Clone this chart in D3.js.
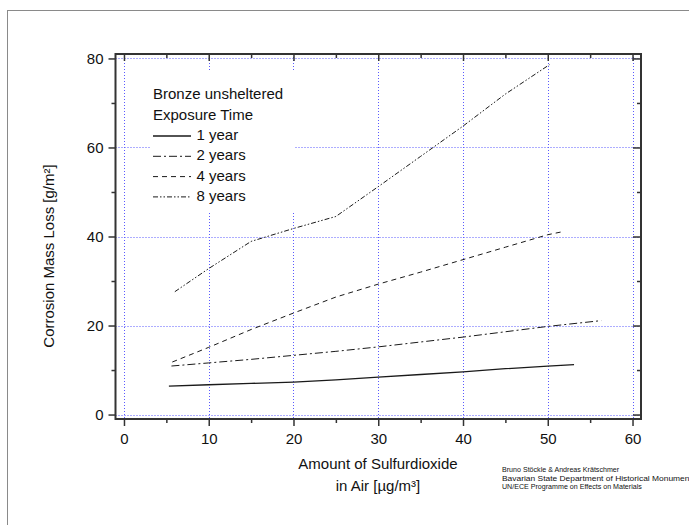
<!DOCTYPE html>
<html>
<head>
<meta charset="utf-8">
<script src="https://cdn.jsdelivr.net/npm/d3@7"></script>
<style>
  html, body { margin: 0; padding: 0; background: #fff; overflow: hidden; }
  svg { display: block; }
  text { font-family: "Liberation Sans", Arial, sans-serif; fill: #111; }
</style>
</head>
<body>
<svg id="chart" width="689" height="525"></svg>
<script>
// ---- data ----
const xTicks = [0, 10, 20, 30, 40, 50, 60];
const xMinorTicks = [5, 15, 25, 35, 45, 55];
const yTicks = [0, 20, 40, 60, 80];
const yMinorTicks = [10, 30, 50, 70];

const seriesNames = ["1 year", "2 years", "4 years", "8 years"];

const sulfur1 = [5.3, 10, 15, 20, 25, 30, 35, 40, 45, 50, 53.1];
const loss1   = [6.4, 6.7, 7.0, 7.3, 7.8, 8.4, 9.0, 9.6, 10.3, 10.9, 11.2];

const sulfur2 = [5.6, 10, 15, 20, 25, 30, 35, 40, 45, 50, 56.3];
const loss2   = [10.9, 11.6, 12.4, 13.3, 14.2, 15.2, 16.3, 17.4, 18.6, 19.8, 21.1];

const sulfur4 = [5.7, 10, 15, 20, 25, 30, 35, 40, 45, 50, 51.8];
const loss4   = [11.8, 15.1, 19.1, 22.8, 26.4, 29.3, 32.0, 34.8, 37.6, 40.4, 41.1];

const sulfur8 = [6.0, 10, 15, 20, 25, 30, 35, 40, 45, 50.2];
const loss8   = [27.6, 32.8, 38.9, 41.8, 44.5, 51.2, 58.0, 64.8, 72.0, 78.6];

const legendTitle = ["Bronze unsheltered", "Exposure Time"];
const xTitle = ["Amount of Sulfurdioxide", "in Air [\u00b5g/m\u00b3]"];
const yTitle = "Corrosion Mass Loss [g/m\u00b2]";
const credits = [
  "Bruno St\u00f6ckle & Andreas Kr\u00e4tschmer",
  "Bavarian State Department of Historical Monuments",
  "UN/ECE Programme on Effects on Materials"
];

// ---- build ----
const svg = d3.select("#chart");
const dashes = [null, "8,3,2,3", "5,4", "5,2,1.5,2,1.5,2"];
const series = [
  sulfur1.map((v, i) => [v, loss1[i]]),
  sulfur2.map((v, i) => [v, loss2[i]]),
  sulfur4.map((v, i) => [v, loss4[i]]),
  sulfur8.map((v, i) => [v, loss8[i]])
];

const L = 115.5, R = 641, T = 54, B = 419;
const x = d3.scaleLinear().domain([-1, 61]).range([L, R]);
const y = d3.scaleLinear().domain([-1, 81]).range([B, T]);

// outer frame
svg.append("rect").attr("x", 7.5).attr("y", 10.5).attr("width", 720).attr("height", 600)
  .attr("fill", "none").attr("stroke", "#8a8a8a").attr("stroke-width", 1);

// grid
const grid = svg.append("g").attr("stroke", "#5a5aff").attr("stroke-width", 1)
  .attr("stroke-dasharray", "1,2");
grid.selectAll("line.v").data(xTicks).join("line")
  .attr("x1", d => Math.round(x(d)) + 0.5).attr("x2", d => Math.round(x(d)) + 0.5)
  .attr("y1", T).attr("y2", B);
grid.selectAll("line.h").data(yTicks).join("line")
  .attr("y1", d => Math.round(y(d)) + 0.5).attr("y2", d => Math.round(y(d)) + 0.5)
  .attr("x1", L).attr("x2", R);

// legend background (hides grid)
svg.append("rect").attr("x", 151).attr("y", 71).attr("width", 144).attr("height", 142)
  .attr("fill", "#fff");

// lines
const line = d3.line().x(d => x(d[0])).y(d => y(d[1]));
svg.append("g").selectAll("path").data(series).join("path")
  .attr("d", line)
  .attr("fill", "none")
  .attr("stroke", "#1a1a1a")
  .attr("stroke-width", (d, i) => i === 0 ? 1.3 : 1)
  .attr("stroke-dasharray", (d, i) => dashes[i]);

// axes
function styleAxis(g) {
  g.select(".domain").remove();
  g.selectAll(".tick line").attr("stroke", "#333").attr("stroke-width", 1.5);
}
svg.append("g").attr("transform", `translate(0,${B})`)
  .call(d3.axisBottom(x).tickValues(xTicks).tickSize(7).tickPadding(7).tickFormat(d3.format("d")))
  .call(styleAxis)
  .call(g => g.selectAll("text").attr("font-size", 15).attr("fill", "#111")
    .attr("font-family", "Liberation Sans, Arial, sans-serif"));
svg.append("g").attr("transform", `translate(0,${B})`)
  .call(d3.axisBottom(x).tickValues(xMinorTicks).tickSize(4).tickFormat(""))
  .call(styleAxis);
svg.append("g").attr("transform", `translate(${L},0)`)
  .call(d3.axisLeft(y).tickValues(yTicks).tickSize(7).tickPadding(5).tickFormat(d3.format("d")))
  .call(styleAxis)
  .call(g => g.selectAll("text").attr("font-size", 15).attr("fill", "#111")
    .attr("font-family", "Liberation Sans, Arial, sans-serif"));
svg.append("g").attr("transform", `translate(${L},0)`)
  .call(d3.axisLeft(y).tickValues(yMinorTicks).tickSize(4).tickFormat(""))
  .call(styleAxis);
svg.append("g").attr("transform", `translate(0,${T})`)
  .call(d3.axisTop(x).tickValues(xTicks).tickSize(-7).tickFormat(""))
  .call(styleAxis);
svg.append("g").attr("transform", `translate(0,${T})`)
  .call(d3.axisTop(x).tickValues(xMinorTicks).tickSize(-4).tickFormat(""))
  .call(styleAxis);
svg.append("g").attr("transform", `translate(${R},0)`)
  .call(d3.axisRight(y).tickValues(yTicks).tickSize(-8).tickFormat(""))
  .call(styleAxis);
svg.append("g").attr("transform", `translate(${R},0)`)
  .call(d3.axisRight(y).tickValues(yMinorTicks).tickSize(-4).tickFormat(""))
  .call(styleAxis);

// axis box
svg.append("rect").attr("x", L).attr("y", T).attr("width", R - L).attr("height", B - T)
  .attr("fill", "none").attr("stroke", "#333").attr("stroke-width", 2);

// legend
const lg = svg.append("g");
lg.selectAll("text.title").data(legendTitle).join("text")
  .attr("x", 153).attr("y", (d, i) => 99 + i * 20.5)
  .attr("font-size", 15).text(d => d);
const items = lg.selectAll("g.item").data(seriesNames).join("g")
  .attr("transform", (d, i) => `translate(0,${140 + i * 20.3})`);
items.append("line").attr("x1", 153).attr("x2", 191).attr("y1", -4).attr("y2", -4)
  .attr("stroke", "#1a1a1a").attr("stroke-width", (d, i) => i === 0 ? 1.3 : 1)
  .attr("stroke-dasharray", (d, i) => dashes[i]);
items.append("text").attr("x", 196.5).attr("y", 0).attr("font-size", 15).text(d => d);

// axis titles
svg.selectAll("text.xt").data(xTitle).join("text")
  .attr("x", 378).attr("y", (d, i) => 469 + i * 21.5)
  .attr("text-anchor", "middle").attr("font-size", 15).text(d => d);
svg.append("text")
  .attr("transform", "translate(54,256) rotate(-90)")
  .attr("text-anchor", "middle").attr("font-size", 15).text(yTitle);

// credits
const cr = svg.selectAll("text.cr").data(credits).join("text")
  .attr("x", 502).attr("y", (d, i) => 472 + i * 8.6)
  .attr("font-size", 7.1).attr("fill", "#333").text(d => d);
cr.filter((d, i) => i === 1)
  .attr("textLength", 194).attr("lengthAdjust", "spacingAndGlyphs");
</script>
</body>
</html>
